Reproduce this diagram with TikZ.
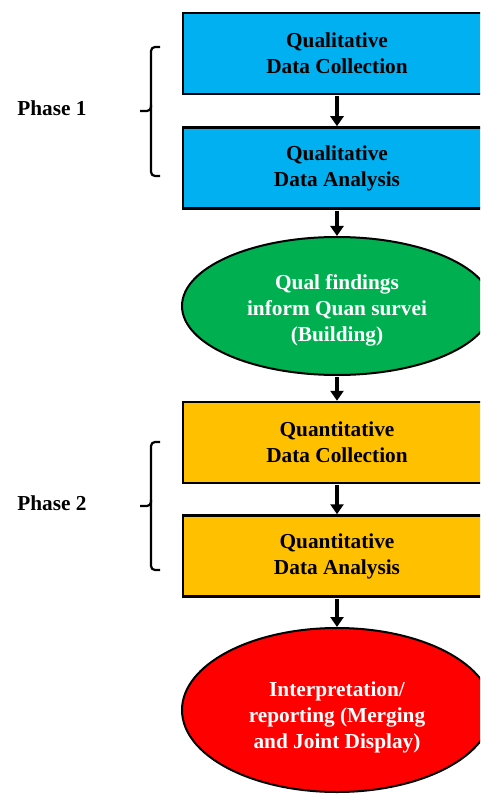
\documentclass[tikz,border=0pt]{standalone}
\usepackage{fontspec}
\setmainfont{Liberation Serif}
\usetikzlibrary{arrows.meta,shapes.geometric}
\definecolor{qualblue}{HTML}{00B0F0}
\definecolor{buildgreen}{HTML}{00B050}
\definecolor{quanyellow}{HTML}{FFC000}
\definecolor{mergered}{HTML}{FF0000}
\tikzset{
  labelfont/.style={font=\fontsize{21.3}{26}\selectfont\bfseries},
  stagebox/.style={draw=black, line width=2.5pt, rectangle, minimum width=308pt, minimum height=81pt,
    align=center, labelfont, inner sep=0pt},
  stageoval/.style={draw=black, line width=2pt, ellipse, inner sep=0pt},
  ovaltext/.style={align=center, labelfont, text=white, inner sep=0pt},
  flow/.style={line width=4.5pt, -{Triangle[width=13pt,length=10pt]}, shorten <=1pt},
  bracket/.style={line width=2.2pt, rounded corners=4pt},
  phase/.style={labelfont}
}
\begin{document}
\begin{tikzpicture}[x=1pt,y=-1pt]
\useasboundingbox (0,0) rectangle (480,794);
\begin{scope}
\clip (0,0) rectangle (480,794);
\node[stagebox, fill=qualblue] (qcol) at (337,53.5) {Qualitative\\Data Collection};
\node[stagebox, fill=qualblue] (qana) at (337,168) {Qualitative\\Data Analysis};
\node[stageoval, fill=buildgreen, minimum width=310pt, minimum height=138pt] (build) at (337,306) {};
\node[ovaltext] (buildtext) at (337,310) {Qual findings\\inform Quan survei\\(Building)};
\node[stagebox, fill=quanyellow] (ncol) at (337,442.5) {Quantitative\\Data Collection};
\node[stagebox, fill=quanyellow] (nana) at (337,556) {Quantitative\\Data Analysis};
\node[stageoval, fill=mergered, minimum width=310pt, minimum height=164pt] (merge) at (337,710) {};
\node[ovaltext] (mergetext) at (337,717) {Interpretation/\\reporting (Merging\\and Joint Display)};

\draw[flow] (qcol) -- (qana);
\draw[flow] (qana) -- (build);
\draw[flow] (build) -- (ncol);
\draw[flow] (ncol) -- (nana);
\draw[flow] (nana) -- (merge);
\end{scope}

% curly brackets grouping each phase
\coordinate (b1top) at (160,47);
\coordinate (b1mid) at (140,111);
\coordinate (b1bot) at (160,176);
\draw[bracket] (b1top) -- (151,47) -- (151,111) -- (b1mid);
\draw[bracket] (151,105) -- (151,176) -- (b1bot);
\coordinate (b2top) at (160,442);
\coordinate (b2mid) at (140,506);
\coordinate (b2bot) at (160,570);
\draw[bracket] (b2top) -- (151,442) -- (151,506) -- (b2mid);
\draw[bracket] (151,500) -- (151,570) -- (b2bot);

\node[phase] (p1) at (52,108) {Phase 1};
\node[phase] (p2) at (52,503) {Phase 2};
\end{tikzpicture}
\end{document}
